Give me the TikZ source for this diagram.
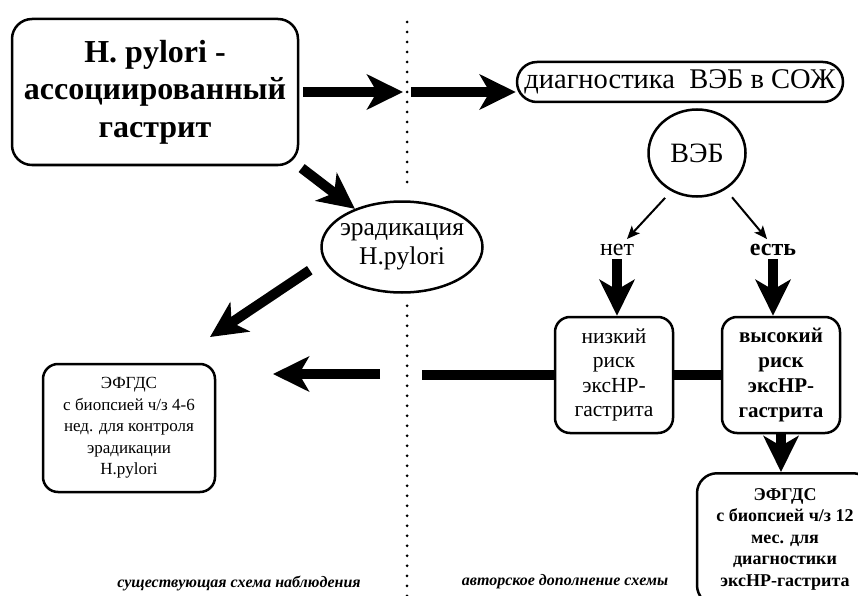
\documentclass[tikz,border=0pt]{standalone}
\usepackage{fontspec}
\setmainfont{Liberation Serif}
\usetikzlibrary{arrows.meta,shapes.geometric}

\begin{document}
\begin{tikzpicture}[x=1pt,y=-1pt,
  box/.style={draw,line width=2.5pt,rounded corners=15pt,align=center,inner sep=0pt},
  oval/.style={draw,ellipse,line width=2.5pt,align=center,inner sep=0pt},
  fat/.style={line width=10pt,-{Stealth[length=36pt,width=35pt,inset=10pt]}},
  thinarr/.style={line width=2pt,-{Stealth[length=13pt,width=11pt,inset=3pt]}},
  dotline/.style={line width=3pt,dash pattern=on 0pt off 10pt,line cap=round}]
  \useasboundingbox (0,0) rectangle (858,596);
  \clip (0,0) rectangle (858,596);
  % left part
  \node[box,rounded corners=20pt,minimum width=286pt,minimum height=146pt,
    font=\fontsize{32}{37.5}\selectfont\bfseries] (gastr) at (155,92)
    {H. pylori -\\ассоциированный\\гастрит};
  \node[oval,inner xsep=-10pt,minimum width=161pt,minimum height=91pt,
    font=\fontsize{25.5}{29}\selectfont] (erad) at (402,247) {эрадикация\\H.pylori};
  \node[box,minimum width=172pt,minimum height=128pt,
    font=\fontsize{17}{21.5}\selectfont] (efgdsA) at (129,428)
    {ЭФГДС\\с биопсией ч/з 4-6\\нед. для контроля\\эрадикации\\H.pylori};
  % dividing line
  \coordinate (dtop) at (407,22);
  \coordinate (dbot) at (407,600);
  \draw[dotline,shorten >=9pt] (dtop) -- (dtop |- erad.north);
  \draw[dotline,shorten <=12pt] (dbot |- erad.south) -- (dbot);
  % right part
  \node[box,rounded corners=20pt,minimum width=326pt,minimum height=40pt,
    font=\fontsize{28.5}{30}\selectfont] (diag) at (680,82) {диагностика\ \ ВЭБ в СОЖ};
  \node[oval,minimum width=97pt,minimum height=87pt,
    font=\fontsize{28}{30}\selectfont] (veb) at (697,153) {ВЭБ};
  \node[inner sep=0pt,font=\fontsize{24}{28}\selectfont] (net) at (617,250) {нет};
  \node[inner sep=0pt,font=\fontsize{24}{28}\selectfont\bfseries] (est) at (773,250) {есть};
  \node[box,minimum width=118pt,minimum height=116pt,
    font=\fontsize{21.5}{24.5}\selectfont] (low) at (614,375) {низкий\\риск\\эксHP-\\гастрита};
  \node[box,minimum width=118pt,minimum height=116pt,
    font=\fontsize{21}{25}\selectfont\bfseries] (high) at (781,375) {высокий\\риск\\эксHP-\\гастрита};
  \node[box,rounded corners=20pt,anchor=north,minimum width=176pt,minimum height=132pt,
    font=\fontsize{18}{21.5}\selectfont\bfseries] (efgdsB) at (785,472)
    {ЭФГДС\\с биопсией ч/з 12\\мес. для\\диагностики\\эксHP-гастрита};
  % captions
  \node[font=\fontsize{16}{19}\selectfont\bfseries\itshape] (capA) at (239,583)
    {существующая схема наблюдения};
  \node[font=\fontsize{16}{19}\selectfont\bfseries\itshape] (capB) at (565,582)
    {авторское дополнение схемы};
  % arrows
  \coordinate (a1) at (403,92);
  \coordinate (b1) at (411,92);
  \coordinate (e1) at (210,337);
  \coordinate (c1) at (422,375);
  \coordinate (c2) at (380,374);
  \coordinate (c3) at (273,374);
  \draw[fat,shorten <=4pt] (gastr.east) -- (a1);
  \draw[fat] (b1) -- (b1 -| diag.west);
  \draw[fat,shorten <=3pt] (gastr.south east) -- (erad.141);
  \draw[fat,shorten <=17pt] (erad.190) -- (e1);
  \draw[thinarr,shorten <=9pt] (veb.236) -- ([xshift=10pt,yshift=5pt]net.north);
  \draw[thinarr,shorten <=10pt] (veb.-52) -- ([xshift=-6pt,yshift=5pt]est.north);
  \draw[fat,shorten <=3pt] (net.south) -- (net.south |- low.north);
  \draw[fat,shorten <=3pt] (est.south) -- (est.south |- high.north);
  \draw[fat] (high.south) -- (high.south |- efgdsB.north);
  \draw[line width=10pt] (low.east) -- (high.west);
  \draw[line width=10pt] (low.west) -- (c1);
  \draw[fat] (c2) -- (c3);
\end{tikzpicture}
\end{document}
